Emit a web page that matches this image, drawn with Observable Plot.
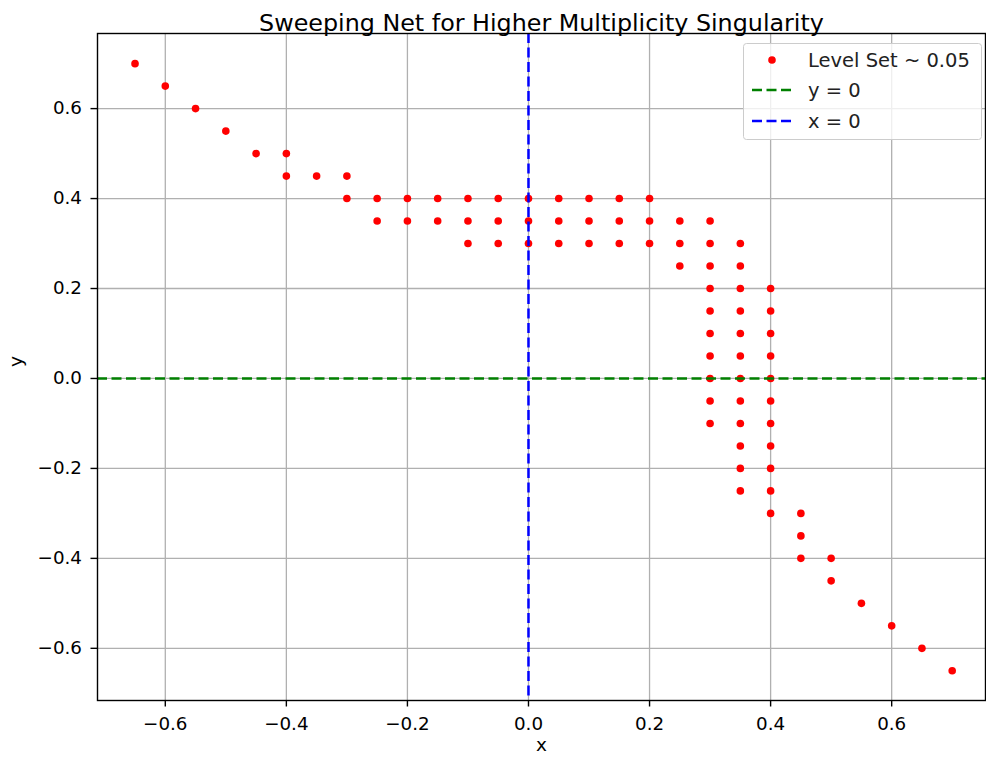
<!DOCTYPE html>
<html><head><meta charset="utf-8">
<script src="https://cdn.jsdelivr.net/npm/d3@7"></script>
<script src="https://cdn.jsdelivr.net/npm/@observablehq/plot@0.6"></script>
<style>
body{margin:0;background:#fff;font-family:"DejaVu Sans",sans-serif;}
#wrap{position:relative;width:986px;height:763px;}
#legend{position:absolute;left:743px;top:43px;}
</style></head><body><div id="wrap"></div>
<script>
// Data: level-set points grouped by x column
const columnX = [-0.65,-0.6,-0.55,-0.5,-0.45,-0.4,-0.35,-0.3,-0.25,-0.2,-0.15,-0.1,-0.05,0,0.05,0.1,0.15,0.2,0.25,0.3,0.35,0.4,0.45,0.5,0.55,0.6,0.65,0.7];
const columnY = [
  [0.7],[0.65],[0.6],[0.55],[0.5],[0.5,0.45],[0.45],[0.45,0.4],
  [0.4,0.35],[0.4,0.35],[0.4,0.35],
  [0.4,0.35,0.3],[0.4,0.35,0.3],[0.4,0.35,0.3],[0.4,0.35,0.3],[0.4,0.35,0.3],[0.4,0.35,0.3],[0.4,0.35,0.3],
  [0.35,0.3,0.25],
  [0.35,0.3,0.25,0.2,0.15,0.1,0.05,0,-0.05,-0.1],
  [0.3,0.25,0.2,0.15,0.1,0.05,0,-0.05,-0.1,-0.15,-0.2,-0.25],
  [0.2,0.15,0.1,0.05,0,-0.05,-0.1,-0.15,-0.2,-0.25,-0.3],
  [-0.3,-0.35,-0.4],[-0.4,-0.45],[-0.5],[-0.55],[-0.6],[-0.65]
];
const xTicks = [-0.6,-0.4,-0.2,0,0.2,0.4,0.6];
const yTicks = [-0.6,-0.4,-0.2,0,0.2,0.4,0.6];
const legendLabels = ["Level Set ~ 0.05","y = 0","x = 0"];
const titleText = "Sweeping Net for Higher Multiplicity Singularity";

const points = [];
columnX.forEach((x,i)=>columnY[i].forEach(y=>points.push({x,y})));
const fmt = d3.format(".1f");
const dash = "10,4.5";

const chart = Plot.plot({
  width: 986, height: 763,
  marginLeft: 97, marginRight: 1, marginTop: 33, marginBottom: 63,
  style:{fontFamily:"DejaVu Sans", fontSize:"18px", background:"white", color:"black"},
  x:{domain:[-0.712,0.755]},
  y:{domain:[-0.716,0.767]},
  marks:[
    Plot.gridX(xTicks,{stroke:"#b0b0b0", strokeOpacity:1, strokeWidth:1.3}),
    Plot.gridY(yTicks,{stroke:"#b0b0b0", strokeOpacity:1, strokeWidth:1.3}),
    Plot.dot(points,{x:"x", y:"y", r:3.8, fill:"red", stroke:"none"}),
    Plot.ruleY([0],{stroke:"green", strokeWidth:2.5, strokeDasharray:dash}),
    Plot.ruleX([0],{stroke:"blue", strokeWidth:2.5, strokeDasharray:dash}),
    Plot.frame({stroke:"black", strokeWidth:1.4}),
    Plot.axisX(xTicks,{tickSize:6.5, tickPadding:10, strokeWidth:1.4, tickFormat:fmt, label:null, fontSize:18.3}),
    Plot.axisY(yTicks,{tickSize:6.5, tickPadding:9, strokeWidth:1.4, tickFormat:fmt, label:null, fontSize:18.3}),
    Plot.text([titleText],{frameAnchor:"top", dy:-19, fontSize:23.8, fill:"black"}),
    Plot.text(["x"],{frameAnchor:"bottom", dy:50, fontSize:18.5, fill:"black"}),
    Plot.text(["y"],{frameAnchor:"left", dx:-81, rotate:-90, fontSize:18.5, fill:"black"})
  ]
});
const wrap = document.getElementById("wrap");
wrap.appendChild(chart);

// Legend
const lw = 238, lh = 96;
const lg = d3.select(wrap).append("svg").attr("id","legend").attr("width",lw+2).attr("height",lh+2)
  .style("font-family","DejaVu Sans").style("font-size","19.5px");
lg.append("rect").attr("x",0.5).attr("y",0.5).attr("width",lw).attr("height",lh).attr("rx",3)
  .attr("fill","white").attr("fill-opacity",0.8).attr("stroke","#cccccc");
const rows = [17, 47, 78];
lg.append("circle").attr("cx",29).attr("cy",rows[0]).attr("r",3.8).attr("fill","red");
lg.append("line").attr("x1",9).attr("x2",49).attr("y1",rows[1]).attr("y2",rows[1])
  .attr("stroke","green").attr("stroke-width",2.5).attr("stroke-dasharray",dash);
lg.append("line").attr("x1",9).attr("x2",49).attr("y1",rows[2]).attr("y2",rows[2])
  .attr("stroke","blue").attr("stroke-width",2.5).attr("stroke-dasharray",dash);
legendLabels.forEach((t,i)=>lg.append("text").attr("x",65).attr("y",rows[i]).attr("dy","0.35em").attr("fill","#222").text(t));
</script>
</body></html>
